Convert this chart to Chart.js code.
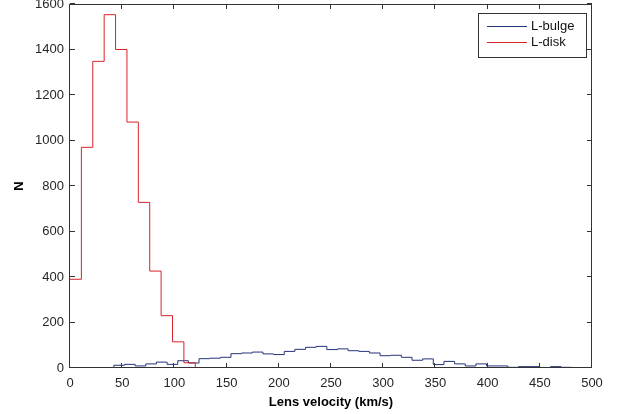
<!DOCTYPE html>
<html>
<head>
<meta charset="utf-8">
<script src="https://cdn.jsdelivr.net/npm/chart.js@4.4.1/dist/chart.umd.min.js"></script>
<style>
  html, body { margin: 0; padding: 0; background: #fff; }
</style>
</head>
<body>
<canvas id="chart" width="618" height="414"></canvas>
<script>
// axis ticks
const xTicks = [0, 50, 100, 150, 200, 250, 300, 350, 400, 450, 500];
const yTicks = [0, 200, 400, 600, 800, 1000, 1200, 1400, 1600];

// L-disk histogram (44 bins over 0..480, only the first ones are non-zero)
const diskStart = 0;
const diskWidth = 480 / 44;
const diskCounts = [390, 970, 1348, 1553, 1400, 1081, 728, 426, 230, 115, 23];

// L-bulge histogram
const bulgeStart = 42;
const bulgeWidth = 10.2;
const bulgeCounts = [
  12, 16, 9, 18, 26, 16, 32, 22, 41, 43,
  47, 63, 66, 70, 62, 59, 73, 82, 91, 95,
  81, 84, 76, 73, 66, 54, 56, 47, 34, 40,
  15, 29, 18, 9, 18, 9, 9, 3, 6, 6,
  2, 6, 3
];

// turn bin counts into stairs points
function stairs(start, width, counts, fromZero) {
  const pts = [];
  if (fromZero) pts.push({ x: 0, y: 0 });
  counts.forEach((c, i) => pts.push({ x: start + i * width, y: c }));
  pts.push({ x: start + counts.length * width, y: 0 });
  return pts;
}

Chart.defaults.font.family = "'Liberation Sans', Arial, sans-serif";
Chart.defaults.font.size = 13;
Chart.defaults.color = "#262626";

// box around the plot with inward ticks (matlab style)
const frame = {
  id: "frame",
  afterDatasetsDraw(chart) {
    const { ctx, chartArea: a, scales: { x, y } } = chart;
    const len = 5;
    ctx.save();
    ctx.strokeStyle = "#333";
    ctx.lineWidth = 1;
    ctx.strokeRect(a.left - 0.5, a.top + 0.5, a.right - a.left, a.bottom - a.top - 1);
    ctx.beginPath();
    xTicks.forEach(v => {
      const px = Math.round(x.getPixelForValue(v)) - 0.5;
      ctx.moveTo(px, a.bottom); ctx.lineTo(px, a.bottom - len);
      ctx.moveTo(px, a.top); ctx.lineTo(px, a.top + len);
    });
    yTicks.forEach(v => {
      const py = Math.round(y.getPixelForValue(v)) - 0.5;
      ctx.moveTo(a.left, py); ctx.lineTo(a.left + len, py);
      ctx.moveTo(a.right, py); ctx.lineTo(a.right - len, py);
    });
    ctx.stroke();
    ctx.restore();
  },
  afterDraw(chart) {
    // legend box in the top right corner
    const { ctx } = chart;
    const bx = 478.5, by = 13.5, bw = 108, bh = 44;
    ctx.save();
    ctx.fillStyle = "#fff";
    ctx.fillRect(bx, by, bw, bh);
    ctx.strokeStyle = "#333";
    ctx.lineWidth = 1;
    ctx.strokeRect(bx, by, bw, bh);
    ctx.font = "13px 'Liberation Sans', Arial, sans-serif";
    ctx.textBaseline = "middle";
    ctx.fillStyle = "#111";
    chart.data.datasets.forEach((ds, i) => {
      const ly = 26.5 + i * 16;
      ctx.strokeStyle = ds.borderColor;
      ctx.beginPath();
      ctx.moveTo(487, ly);
      ctx.lineTo(527, ly);
      ctx.stroke();
      ctx.fillText(ds.label, 531, ly);
    });
    ctx.restore();
  }
};

new Chart(document.getElementById("chart"), {
  type: "line",
  data: {
    datasets: [
      {
        label: "L-bulge",
        data: stairs(bulgeStart, bulgeWidth, bulgeCounts, true),
        borderColor: "#24347a",
        borderWidth: 1,
        stepped: "before",
        pointRadius: 0,
        order: 1
      },
      {
        label: "L-disk",
        data: stairs(diskStart, diskWidth, diskCounts, false),
        borderColor: "#d8232a",
        borderWidth: 1,
        stepped: "before",
        pointRadius: 0,
        order: 0
      }
    ]
  },
  options: {
    responsive: false,
    animation: false,
    layout: { padding: { left: 12, top: 4, right: 26, bottom: 4 } },
    plugins: { legend: { display: false }, tooltip: { enabled: false } },
    scales: {
      x: {
        type: "linear",
        min: 0,
        max: 500,
        afterBuildTicks: s => { s.ticks = xTicks.map(v => ({ value: v })); },
        grid: { display: false, drawTicks: false },
        border: { display: false },
        ticks: { padding: 8, maxRotation: 0, autoSkip: false, callback: v => String(v) },
        title: {
          display: true,
          text: "Lens velocity (km/s)",
          color: "#000",
          font: { size: 13, weight: "bold" },
          padding: 0
        },
        afterFit: s => { s.height = 42; s.paddingLeft = 0; s.paddingRight = 0; }
      },
      y: {
        min: 0,
        max: 1600,
        afterBuildTicks: s => { s.ticks = yTicks.map(v => ({ value: v })); },
        grid: { display: false, drawTicks: false },
        border: { display: false },
        ticks: { padding: 6, callback: v => String(v) },
        title: {
          display: true,
          text: "N",
          color: "#000",
          font: { size: 13, weight: "bold" },
          padding: 0
        },
        afterFit: s => { s.width = 58; s.paddingTop = 0; s.paddingBottom = 0; }
      }
    }
  },
  plugins: [frame]
});
</script>
</body>
</html>
